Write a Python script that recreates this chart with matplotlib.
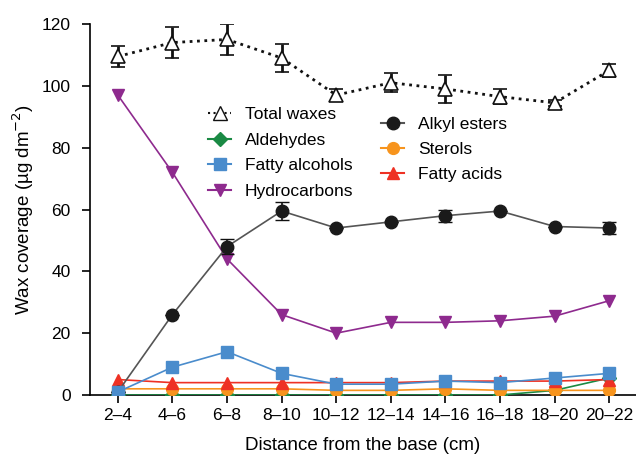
import matplotlib
matplotlib.use("Agg")
import matplotlib.pyplot as plt
from matplotlib.lines import Line2D
import numpy as np

plt.rcParams['font.family'] = ['Liberation Sans', 'DejaVu Sans']

categories = ["2–4", "4–6", "6–8", "8–10", "10–12", "12–14", "14–16", "16–18", "18–20", "20–22"]
total_waxes = [109.5, 114, 115, 109, 97, 101, 99, 96.5, 94.5, 105]
total_err = [3.5, 5, 5, 4.5, 2, 3, 4.5, 2.5, 1, 2]
alkyl_esters = [1, 26, 48, 59.5, 54, 56, 58, 59.5, 54.5, 54]
alkyl_err = [0, 0, 2.5, 3, 0, 0, 2, 0, 0, 2]
hydrocarbons = [97, 72, 44, 26, 20, 23.5, 23.5, 24, 25.5, 30.5]
fatty_alcohols = [1, 9, 14, 7, 3.5, 3.5, 4.5, 4, 5.5, 7]
aldehydes = [0, 0, 0, 0, 0, 0, 0, 0, 1.5, 5.5]
sterols = [2, 2, 2, 2, 1.5, 1.5, 2, 1.5, 1.5, 1.5]
fatty_acids = [5, 4, 4, 4, 4, 4, 4.5, 4.5, 4.5, 5]

fig = plt.figure(figsize=(6.36, 4.57), dpi=100)
ax = fig.add_axes([90/636, 62/457, 546/636, 371/457])
x = np.arange(len(categories))

ax.plot(x, aldehydes, color='#1a8a44', marker='D', ms=7, lw=1.2, zorder=3)
ax.plot(x, sterols, color='#f7941d', marker='o', ms=8.5, lw=1.2, zorder=3)
ax.plot(x, fatty_acids, color='#ee3124', marker='^', ms=9, lw=1.2, zorder=3)
ax.plot(x, hydrocarbons, color='#8e2a8e', marker='v', ms=9, lw=1.2, zorder=4)
ax.errorbar(x, alkyl_esters, yerr=alkyl_err, color='#555555', ecolor='#111111',
            marker='o', mfc='#1a1a1a', mec='#1a1a1a', ms=9, lw=1.2, capsize=5, zorder=5)
ax.plot(x, fatty_alcohols, color='#4a8ccc', marker='s', ms=8.5, lw=1.2, zorder=6)
ax.errorbar(x, total_waxes, yerr=total_err, color='#111111', ecolor='#111111', ls=':',
            lw=2, marker='^', mfc='white', mec='#111111', mew=1.2, ms=10, capsize=5, zorder=5)

ax.set_xlim(-0.51, 9.49)
ax.set_ylim(0, 120)
ax.set_yticks(range(0, 121, 20))
ax.set_xticks(x)
ax.set_xticklabels(categories)
ax.tick_params(labelsize=12.5, length=6, width=1.2, direction='out')
ax.tick_params(axis='y', pad=8)
for s in ['top', 'right']:
    ax.spines[s].set_visible(False)
for s in ['left', 'bottom']:
    ax.spines[s].set_linewidth(1.2)
ax.set_xlabel("Distance from the base (cm)", fontsize=13.5, labelpad=10)
ax.set_ylabel("Wax coverage (µg dm$^{-2}$)", fontsize=13.5)

h1 = [Line2D([], [], color='#111111', ls=':', lw=1.5, marker='^', mfc='white', mec='#111111', ms=10),
      Line2D([], [], color='#1a8a44', marker='D', ms=7),
      Line2D([], [], color='#4a8ccc', marker='s', ms=8.5),
      Line2D([], [], color='#8e2a8e', marker='v', ms=9)]
l1 = ax.legend(h1, ["Total waxes", "Aldehydes", "Fatty alcohols", "Hydrocarbons"],
               loc='upper left', bbox_to_anchor=(0.204, 0.795), frameon=False, fontsize=12.5,
               handlelength=1.3, labelspacing=0.6, handletextpad=0.8, borderaxespad=0)
ax.add_artist(l1)
h2 = [Line2D([], [], color='#555555', marker='o', mfc='#1a1a1a', mec='#1a1a1a', ms=9),
      Line2D([], [], color='#f7941d', marker='o', ms=8.5),
      Line2D([], [], color='#ee3124', marker='^', ms=9)]
ax.legend(h2, ["Alkyl esters", "Sterols", "Fatty acids"],
          loc='upper left', bbox_to_anchor=(0.521, 0.768), frameon=False, fontsize=12.5,
          handlelength=1.3, labelspacing=0.56, handletextpad=0.8, borderaxespad=0)

fig.savefig("out.png", dpi=100)
